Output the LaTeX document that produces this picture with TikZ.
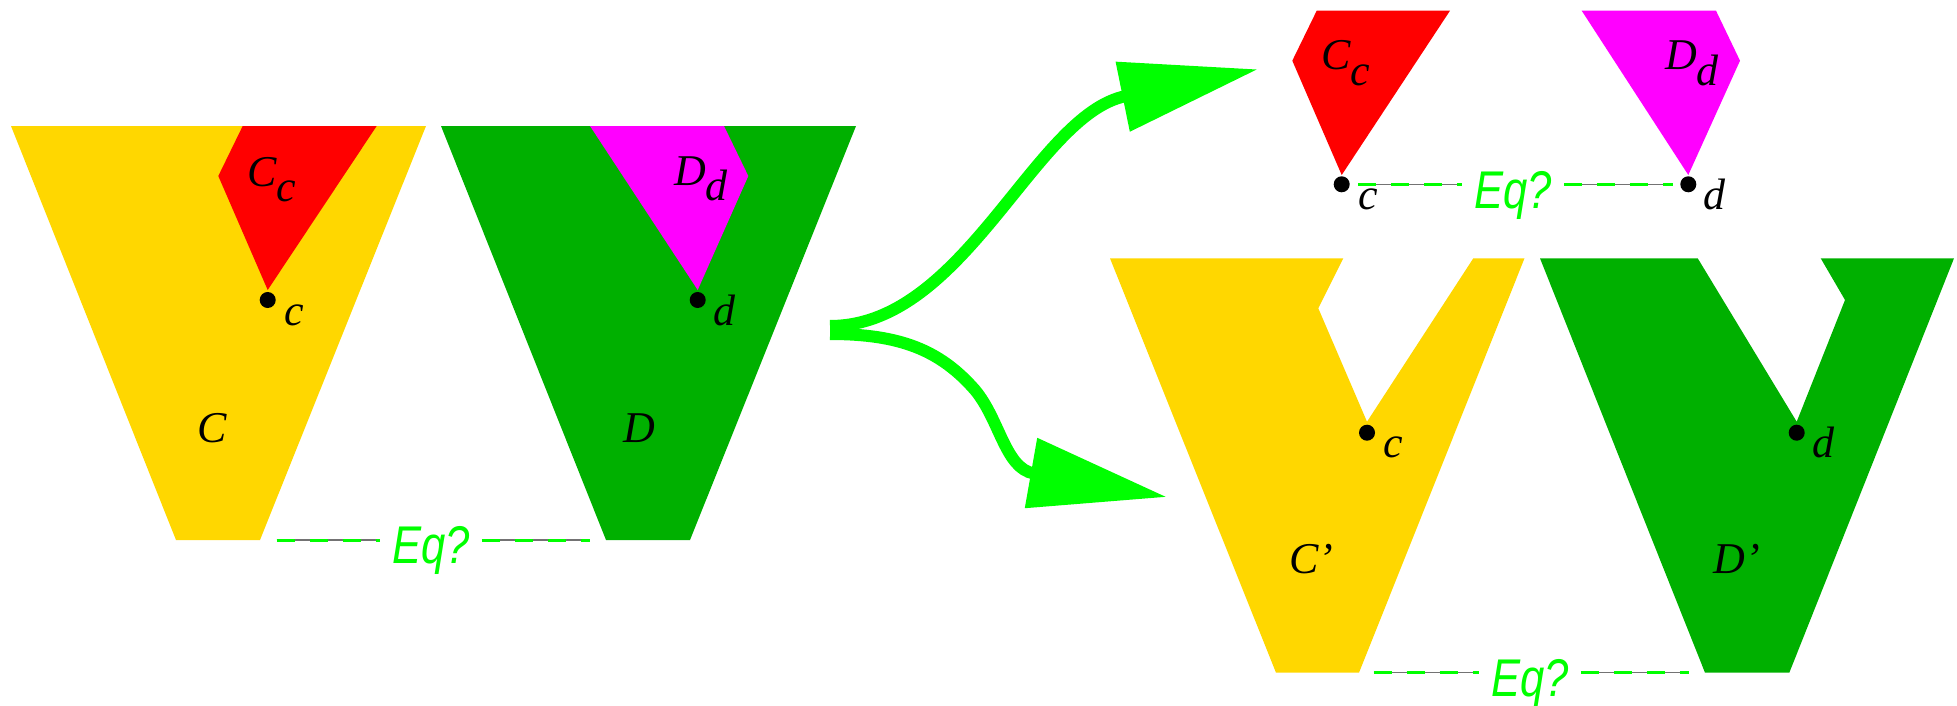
\documentclass[tikz,border=0pt]{standalone}
\usepackage{fontspec}
\setmainfont{Liberation Serif}
\newfontfamily\eqfont{Liberation Sans}
\usetikzlibrary{arrows.meta,positioning}
\definecolor{cgold}{RGB}{255,215,0}
\definecolor{dgreen}{RGB}{0,176,0}
\definecolor{lime}{RGB}{0,255,0}
\definecolor{pmagenta}{RGB}{255,0,255}
\definecolor{pred}{RGB}{255,0,0}
\newcommand{\withsub}[2]{#1\raisebox{-0.36em}{#2}}

\begin{document}
\begin{tikzpicture}[x=0.01cm,y=-0.01cm,
	lbl/.style={font=\fontsize{12.5}{15}\selectfont\itshape,inner sep=0pt,anchor=base},
	pt/.style={circle,fill=black,inner sep=0pt,minimum size=0.16cm},
	ptlbl/.style={lbl,xshift=0.265cm,yshift=-0.25cm},
	eq/.style={font=\fontsize{15.1}{18}\selectfont\eqfont\itshape,text=lime,inner xsep=0.113cm,inner ysep=0pt,anchor=base},
	eqline/.style={draw=lime,line width=0.03cm,dash pattern=on 0.18cm off 0.15cm,preaction={draw=black!55,solid,line width=0.012cm}},
	flow/.style={draw=lime,line width=0.12cm,-{Triangle[length=1.38cm,width=0.68cm]},shorten >=-1.38cm}]
			\useasboundingbox (0,0) rectangle (1957,706);
			\fill[cgold] (11,126) -- (426,126) -- (260,540) -- (176,540) -- cycle;
			\fill[pred] (242.7,126) -- (376.7,126) -- (267.7,290) -- (218.3,176) -- cycle;
			\fill[dgreen] (441,126) -- (856,126) -- (690,540) -- (606,540) -- cycle;
			\fill[pmagenta] (590,126) -- (724,126) -- (748.3,176) -- (697.7,290) -- cycle;
			\fill[pred] (1316.7,10.7) -- (1450,10.7) -- (1341.7,175) -- (1292.3,60.7) -- cycle;
			\fill[pmagenta] (1581.7,10.7) -- (1716,10.7) -- (1740,60.7) -- (1688.3,175) -- cycle;
			\fill[cgold] (1110,258.3) -- (1343.3,258.3) -- (1318.3,308.3) -- (1367,421.7) -- (1473.3,258.3) -- (1524.5,258.3) -- (1359,672.7) -- (1276,672.7) -- cycle;
			\fill[dgreen] (1540,258.3) -- (1697.7,258.3) -- (1796.7,421.7) -- (1845,300) -- (1820.7,258.3) -- (1954,258.3) -- (1789.3,672.7) -- (1705,672.7) -- cycle;
			\node[lbl] (lC) at (212,442) {C};
			\node[lbl] (lCc) at (272,186) {\withsub{C}{c}};
			\node[lbl] (lD) at (639,442) {D};
			\node[lbl] (lDd) at (701,185) {\withsub{D}{d}};
			\node[lbl] (lCc2) at (1346,70) {\withsub{C}{c}};
			\node[lbl] (lDd2) at (1692,70) {\withsub{D}{d}};
			\node[lbl] (lC2) at (1311,573) {C’};
			\node[lbl] (lD2) at (1737,573) {D’};
			\node[pt] (c1) at (267.7,300) {}; \node[ptlbl] (lc1) at (c1) {c};
			\node[pt] (d1) at (697.7,300) {}; \node[ptlbl] (ld1) at (d1) {d};
			\node[pt] (c2) at (1341.7,184.3) {}; \node[ptlbl] (lc2) at (c2) {c};
			\node[pt] (d2) at (1688.3,184.3) {}; \node[ptlbl] (ld2) at (d2) {d};
			\node[pt] (c3) at (1367,432.7) {}; \node[ptlbl] (lc3) at (c3) {c};
			\node[pt] (d3) at (1796.7,432.7) {}; \node[ptlbl] (ld3) at (d3) {d};
			\coordinate (eqLa) at (276.7,540); \coordinate (eqLb) at (590,540);
			\node[eq] (eqL) at (431,563.5) {\scalebox{0.82}[1]{Eq?}};
			\draw[eqline] (eqLa) -- (eqLa -| eqL.west);
			\draw[eqline] (eqL.east |- eqLb) -- (eqLb);
			\coordinate (eqMa) at (1358.3,184.3); \coordinate (eqMb) at (1673.3,184.3);
			\node[eq] (eqM) at (1513,208) {\scalebox{0.82}[1]{Eq?}};
			\draw[eqline] (eqMa) -- (eqMa -| eqM.west);
			\draw[eqline] (eqM.east |- eqMb) -- (eqMb);
			\coordinate (eqBa) at (1373.6,672.7); \coordinate (eqBb) at (1688.6,672.7);
			\node[eq] (eqB) at (1530,696) {\scalebox{0.82}[1]{Eq?}};
			\draw[eqline] (eqBa) -- (eqBa -| eqB.west);
			\draw[eqline] (eqB.east |- eqBb) -- (eqBb);
			\coordinate (forkU) at (830,326); \coordinate (forkD) at (830,334);
			\coordinate (headU) at (1122.7,96.7); \coordinate (headD) at (1031,473);
			\draw[flow] (forkU) .. controls (965,326) and (1034.5,114.6) .. (headU);
			\draw[flow] (forkD) .. controls (900,334) and (940,350) .. (975,390) .. controls (1000,420) and (1005,468.4) .. (headD);
		\end{tikzpicture}
\end{document}
